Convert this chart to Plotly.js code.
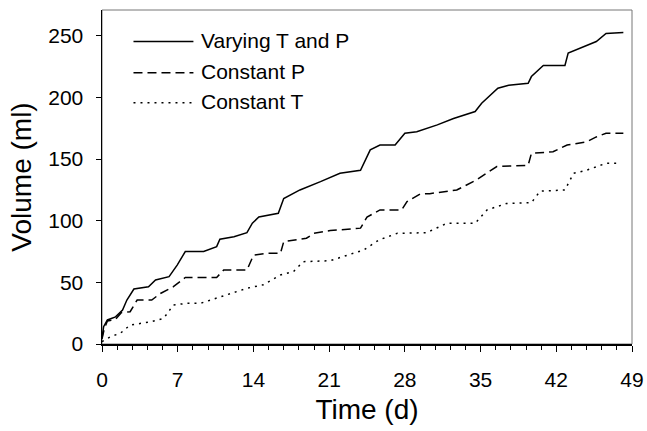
<!DOCTYPE html>
<html>
<head>
<meta charset="utf-8">
<script src="https://cdn.plot.ly/plotly-3.0.1.min.js"></script>
<style>html,body{margin:0;padding:0;background:#fff;}#chart{width:647px;height:431px;}</style>
</head>
<body>
<div id="chart"></div>
<script>
// Varying T and P
var timeVarying = [0, 0.15, 0.5, 1.25, 1.9, 2.3, 2.95, 4.3, 4.95, 6.2, 6.95, 7.7, 9.4, 10.6, 10.9, 12.2, 13.4, 13.9, 14.5, 16.3, 16.8, 17.4, 18.3, 20.2, 22, 23.9, 24.8, 25.7, 27.1, 28, 29.1, 31, 32.5, 34.5, 35.1, 36.6, 37.6, 39.4, 39.7, 40.8, 42.8, 43.1, 44.5, 45.7, 46.6, 48.2];
var volVarying = [5, 14, 19.5, 22, 27.6, 35.7, 44.6, 46.5, 52, 54.6, 64, 75, 75, 79, 85, 87, 90.3, 98, 103, 106, 118, 121, 125, 131.7, 138.5, 141, 157.5, 161.5, 161.5, 171, 172.3, 177.8, 183, 188.6, 195.3, 207.5, 210, 211.6, 217, 226, 226, 236, 241.3, 245.4, 252, 252.7];
// Constant P
var timeConstP = [0, 0.2, 0.5, 1.25, 1.8, 2.6, 3.25, 4.6, 5.4, 6.6, 7.7, 10.6, 11.25, 13.4, 14, 15.25, 16.5, 16.8, 18.9, 19.6, 21.1, 23.9, 24.5, 25.7, 27.7, 28.2, 29.4, 30.3, 32.8, 34.6, 36.5, 39.4, 39.7, 41.7, 43, 44.8, 45.7, 46.6, 48.2];
var volConstP = [4, 12, 18.7, 20, 25.5, 26.2, 35.7, 35.7, 41, 46.5, 54, 54, 60, 60, 72, 73.6, 73.6, 83, 85.8, 89.8, 92, 94, 103, 108.8, 108.8, 115.5, 121.7, 122, 125, 133, 144, 145, 154.7, 156, 161.5, 164, 168, 171, 171];
// Constant T
var timeConstT = [0, 0.8, 1.7, 2.6, 4.5, 5.7, 6.6, 7.9, 9.1, 11.6, 13.4, 14.9, 16.5, 17.7, 18.6, 21.1, 24.2, 25.6, 27.3, 30, 31.9, 34.5, 35.6, 37.4, 39.7, 40.5, 42.8, 43.6, 44.8, 46.6, 47.9];
var volConstT = [2, 6, 8.7, 15.4, 18, 20.8, 31.7, 33, 33, 39.8, 45.2, 48, 56, 58.7, 66.8, 67.6, 76.3, 84.4, 89.8, 90.3, 98, 98, 108.8, 114, 114.7, 124, 125, 138.5, 141, 146.6, 146.6];

var seriesNames = ["Varying T and P", "Constant P", "Constant T"];
var xTicks = [0, 7, 14, 21, 28, 35, 42, 49];
var yTicks = [0, 50, 100, 150, 200, 250];

var dashes = ["solid", "9px,5px", "2px,5px"];

var traces = [
  {x: timeVarying, y: volVarying, name: seriesNames[0], mode: "lines", line: {color: "#000", width: 1.5, dash: dashes[0]}},
  {x: timeConstP, y: volConstP, name: seriesNames[1], mode: "lines", line: {color: "#000", width: 1.5, dash: dashes[1]}},
  {x: timeConstT, y: volConstT, name: seriesNames[2], mode: "lines", line: {color: "#000", width: 1.5, dash: dashes[2]}}
];

// legend drawn as line samples + text in paper coordinates
var legRowY = [0.906, 0.812, 0.722];
var shapes = [
  {type: "rect", xref: "paper", yref: "paper", x0: 0, x1: 1, y0: 0, y1: 1, line: {color: "#777", width: 1}, layer: "below"}
];
var annotations = [];
for (var i = 0; i < seriesNames.length; i++) {
  shapes.push({type: "line", xref: "paper", yref: "paper", x0: 0.0594, x1: 0.1725, y0: legRowY[i], y1: legRowY[i],
    line: {color: "#000", width: 1.5, dash: dashes[i]}});
  annotations.push({xref: "paper", yref: "paper", x: 0.1838, y: legRowY[i] + 0.004, xanchor: "left", yanchor: "middle",
    text: seriesNames[i], showarrow: false, font: {size: 21, color: "#000"}});
}

var layout = {
  width: 647, height: 431,
  margin: {l: 101.5, r: 15, t: 10, b: 87},
  paper_bgcolor: "#fff", plot_bgcolor: "#fff",
  font: {family: "Liberation Sans, Arial, sans-serif", color: "#000"},
  showlegend: false,
  xaxis: {
    range: [0, 49], tickmode: "array", tickvals: xTicks, ticktext: xTicks.map(String),
    ticks: "outside", ticklen: 6, tickwidth: 1, tickcolor: "#000",
    minor: {dtick: 1.4, tick0: 0, ticks: "outside", ticklen: 4, tickwidth: 1, tickcolor: "#000", showgrid: false},
    showline: true, linecolor: "#000", linewidth: 1.5, showgrid: false, zeroline: false,
    tickfont: {size: 21}, ticklabelstandoff: 10,
    title: {text: "Time (d)", font: {size: 28}, standoff: 9}
  },
  yaxis: {
    range: [0, 271], tickmode: "array", tickvals: yTicks, ticktext: yTicks.map(String),
    ticks: "outside", ticklen: 5, tickwidth: 1, tickcolor: "#000",
    showline: true, linecolor: "#000", linewidth: 1.5, showgrid: false, zeroline: false,
    tickfont: {size: 21}, ticklabelstandoff: 8,
    title: {text: "Volume (ml)", font: {size: 28}, standoff: 8}
  },
  shapes: shapes,
  annotations: annotations
};

Plotly.newPlot("chart", traces, layout, {displayModeBar: false, staticPlot: true});
</script>
</body>
</html>
